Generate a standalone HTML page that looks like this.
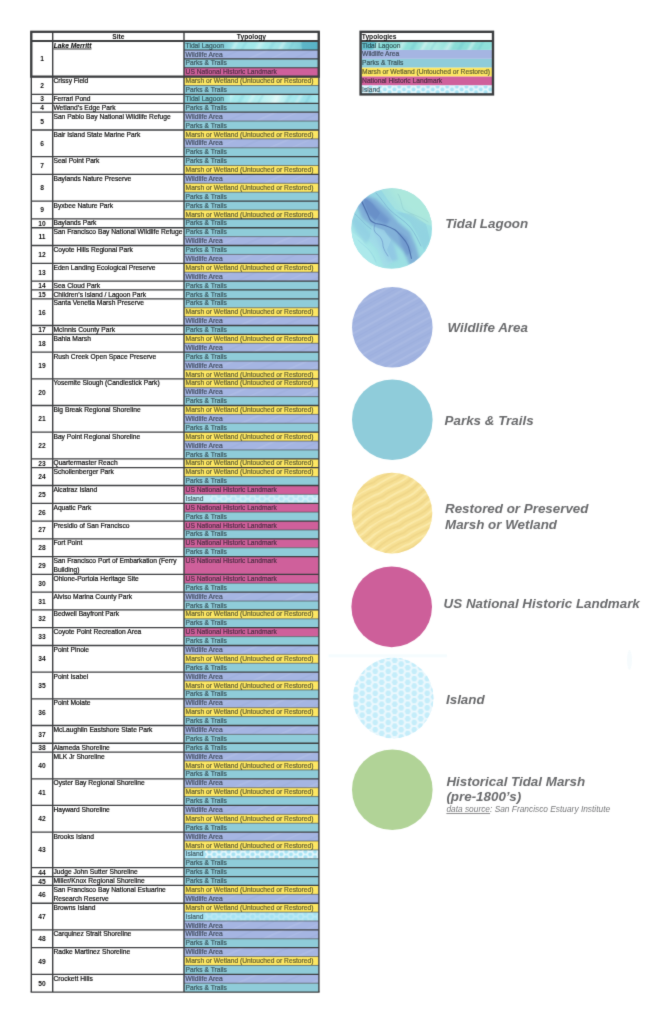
<!DOCTYPE html>
<html lang="en"><head><meta charset="utf-8"><title>Site Typologies</title>
<style>
html,body{margin:0;padding:0;background:#fff}
body{width:663px;height:1024px;overflow:hidden}
svg{display:block;font-family:"Liberation Sans",Arial,Helvetica,sans-serif}
</style></head><body>
<svg width="663" height="1024" viewBox="0 0 663 1024">
<defs>
<linearGradient id="gT" x1="0" x2="1" y1="0" y2="0">
<stop offset="0" stop-color="#84ccd8"/><stop offset=".27" stop-color="#86cfda"/><stop offset=".34" stop-color="#a2e8ec"/><stop offset=".55" stop-color="#b4eff0"/><stop offset=".68" stop-color="#d2f6f5"/><stop offset=".8" stop-color="#a8eaee"/><stop offset=".92" stop-color="#9adfe8"/><stop offset="1" stop-color="#a5e9f0"/></linearGradient>
<linearGradient id="gT1" x1="0" x2="1" y1="0" y2="0">
<stop offset="0" stop-color="#84ccd8"/><stop offset=".3" stop-color="#86cfda"/><stop offset=".37" stop-color="#a0e6ea"/><stop offset=".6" stop-color="#a4e9eb"/><stop offset=".72" stop-color="#9fe3e6"/><stop offset=".86" stop-color="#7fcfd8"/><stop offset=".88" stop-color="#5db6c8"/><stop offset="1" stop-color="#58b2c6"/></linearGradient>
<linearGradient id="gTL" x1="0" x2="1" y1="0" y2="0">
<stop offset="0" stop-color="#6cc4cf"/><stop offset=".1" stop-color="#62c0cc"/><stop offset=".13" stop-color="#86dcd8"/><stop offset=".4" stop-color="#8fe0da"/><stop offset=".55" stop-color="#b2ece6"/><stop offset=".7" stop-color="#8adcd6"/><stop offset="1" stop-color="#90e0dc"/></linearGradient>
<linearGradient id="gS" x1="0" x2="1"><stop offset="0" stop-color="#fff" stop-opacity="0"/><stop offset=".5" stop-color="#fff" stop-opacity=".75"/><stop offset="1" stop-color="#fff" stop-opacity="0"/></linearGradient>
<linearGradient id="gS2" x1="0" x2="1"><stop offset="0" stop-color="#58b3c6" stop-opacity="0"/><stop offset=".5" stop-color="#58b3c6" stop-opacity=".5"/><stop offset="1" stop-color="#58b3c6" stop-opacity="0"/></linearGradient>
<pattern id="pT" width="41" height="40" patternUnits="userSpaceOnUse" patternTransform="translate(230 0) rotate(30)">
<rect x="3" width="9" height="40" fill="url(#gS)"/><rect x="15" width="6" height="40" fill="url(#gS2)"/><rect x="24" width="6" height="40" fill="url(#gS)"/><rect x="33" width="4" height="40" fill="url(#gS2)"/></pattern>
<pattern id="pW" width="46" height="30" patternUnits="userSpaceOnUse" patternTransform="rotate(-24)">
<rect y="4" width="46" height="1.6" fill="#fff" opacity=".09"/><rect y="13" width="46" height="1.2" fill="#fff" opacity=".07"/><rect y="22" width="46" height="2" fill="#8093c8" opacity=".1"/></pattern>
<pattern id="pWc" width="50" height="23" patternUnits="userSpaceOnUse" patternTransform="rotate(-29)">
<rect y="2" width="50" height="1.8" fill="#fff" opacity=".1"/><rect y="7" width="50" height="1" fill="#8b9fd4" opacity=".22"/><rect y="11" width="50" height="2.2" fill="#fff" opacity=".08"/><rect y="16" width="50" height="1.2" fill="#8b9fd4" opacity=".2"/><rect y="19.5" width="50" height="1.2" fill="#fff" opacity=".07"/></pattern>
<pattern id="pMc" width="64" height="8.4" patternUnits="userSpaceOnUse" patternTransform="translate(392 513) rotate(-31)">
<path d="M0 2.1 C10 -.2 22 4.6 32 2.1 S54 -.2 64 2.1" stroke="#fdf0b8" stroke-width="1.9" fill="none" opacity=".62"/><path d="M0 6.3 C10 4 22 8.8 32 6.3 S54 4 64 6.3" stroke="#e4c976" stroke-width="1.7" fill="none" opacity=".42"/></pattern>
<pattern id="pI" width="6.2" height="5.4" patternUnits="userSpaceOnUse" patternTransform="translate(0 1.2)">
<circle cx="1.55" cy="1.35" r="1.75" fill="none" stroke="#fff" stroke-width=".8"/><circle cx="4.65" cy="4.05" r="1.75" fill="none" stroke="#fff" stroke-width=".8"/><circle cx="4.65" cy="-1.35" r="1.75" fill="none" stroke="#fff" stroke-width=".8"/><circle cx="-1.55" cy="4.05" r="1.75" fill="none" stroke="#fff" stroke-width=".8"/><circle cx="7.75" cy="1.35" r="1.75" fill="none" stroke="#fff" stroke-width=".8"/><circle cx="1.55" cy="6.75" r="1.75" fill="none" stroke="#fff" stroke-width=".8"/></pattern>
<pattern id="pI2" width="9.6" height="5.6" patternUnits="userSpaceOnUse" patternTransform="translate(368 85.6)">
<circle cx="2.4" cy="1" r="2.05" fill="#a6e3f5"/><circle cx="7.2" cy="3.8" r="2.05" fill="#a6e3f5"/><circle cx="7.2" cy="-1.8" r="2.05" fill="#a6e3f5"/><circle cx="2.4" cy="6.6" r="2.05" fill="#a6e3f5"/><circle cx="-2.4" cy="3.8" r="2.05" fill="#a6e3f5"/><circle cx="12" cy="1" r="2.05" fill="#a6e3f5"/></pattern>
<pattern id="pI3" width="9.6" height="5.6" patternUnits="userSpaceOnUse" patternTransform="translate(207 0)"><circle cx="2.4" cy="1.6" r="2.05" fill="#a6e3f5"/><circle cx="7.2" cy="4.4" r="2.05" fill="#a6e3f5"/><circle cx="7.2" cy="-1.2" r="2.05" fill="#a6e3f5"/><circle cx="2.4" cy="7.2" r="2.05" fill="#a6e3f5"/><circle cx="-2.4" cy="4.4" r="2.05" fill="#a6e3f5"/><circle cx="12" cy="1.6" r="2.05" fill="#a6e3f5"/></pattern>
<pattern id="pIc" width="13" height="7.3" patternUnits="userSpaceOnUse" patternTransform="translate(381.7 667.7)"><polygon points="3.05,0.00 1.53,2.64 -1.52,2.64 -3.05,0.00 -1.53,-2.64 1.53,-2.64" fill="#c4edfa"/><polygon points="16.05,0.00 14.53,2.64 11.48,2.64 9.95,0.00 11.47,-2.64 14.53,-2.64" fill="#c4edfa"/><polygon points="3.05,7.30 1.53,9.94 -1.52,9.94 -3.05,7.30 -1.53,4.66 1.53,4.66" fill="#c4edfa"/><polygon points="16.05,7.30 14.53,9.94 11.48,9.94 9.95,7.30 11.47,4.66 14.53,4.66" fill="#c4edfa"/><polygon points="9.55,3.65 8.03,6.29 4.98,6.29 3.45,3.65 4.97,1.01 8.03,1.01" fill="#c4edfa"/></pattern>
<linearGradient id="gI" x1="0" x2="1"><stop offset="0" stop-color="#fff" stop-opacity=".25"/><stop offset=".3" stop-color="#fff" stop-opacity=".55"/><stop offset=".75" stop-color="#fff" stop-opacity=".9"/><stop offset="1" stop-color="#fff" stop-opacity=".6"/></linearGradient>
<mask id="mI" maskContentUnits="userSpaceOnUse"><rect x="204" y="0" width="114.9" height="1024" fill="url(#gI)"/></mask>
<linearGradient id="gTc" x1="0" y1="0" x2="1" y2="1"><stop offset="0" stop-color="#94d3e2"/><stop offset=".45" stop-color="#98dbe4"/><stop offset="1" stop-color="#9fe3e2"/></linearGradient>
<clipPath id="cT"><circle cx="391.7" cy="228.5" r="40.3"/></clipPath>
<filter id="soft" x="0" y="0" width="663" height="1024" filterUnits="userSpaceOnUse" color-interpolation-filters="sRGB"><feConvolveMatrix order="3" kernelMatrix="0.0113 0.084 0.0113 0.084 0.6188 0.084 0.0113 0.084 0.0113" divisor="1" edgeMode="duplicate"/></filter>
<filter id="b2" x="-20%" y="-20%" width="140%" height="140%"><feGaussianBlur stdDeviation="1.8"/></filter>
<filter id="b3" x="-20%" y="-20%" width="140%" height="140%"><feGaussianBlur stdDeviation="3"/></filter>
<filter id="b1" x="-20%" y="-20%" width="140%" height="140%"><feGaussianBlur stdDeviation=".45"/></filter>
</defs>
<rect width="663" height="1024" fill="#fff"/>
<g filter="url(#soft)">
<g id="fills">
<rect x="184" y="41.1" width="134.9" height="8.89" fill="url(#gT1)"/>
<rect x="230" y="41.1" width="72" height="8.89" fill="url(#pT)" opacity=".45"/>
<rect x="184" y="49.99" width="134.9" height="8.89" fill="#a5b5e2"/>
<rect x="184" y="49.99" width="134.9" height="8.89" fill="url(#pW)"/>
<rect x="184" y="58.88" width="134.9" height="8.89" fill="#8fccd9"/>
<rect x="184" y="67.76" width="134.9" height="8.89" fill="#cf609b"/>
<rect x="184" y="76.65" width="134.9" height="8.89" fill="#fde763"/>
<rect x="184" y="85.54" width="134.9" height="8.89" fill="#8fccd9"/>
<rect x="184" y="94.43" width="134.9" height="8.89" fill="url(#gT)"/>
<rect x="230" y="94.43" width="88.9" height="8.89" fill="url(#pT)" opacity=".45"/>
<rect x="184" y="103.32" width="134.9" height="8.89" fill="#8fccd9"/>
<rect x="184" y="112.2" width="134.9" height="8.89" fill="#a5b5e2"/>
<rect x="184" y="112.2" width="134.9" height="8.89" fill="url(#pW)"/>
<rect x="184" y="121.09" width="134.9" height="8.89" fill="#8fccd9"/>
<rect x="184" y="129.98" width="134.9" height="8.89" fill="#fde763"/>
<rect x="184" y="138.87" width="134.9" height="8.89" fill="#a5b5e2"/>
<rect x="184" y="138.87" width="134.9" height="8.89" fill="url(#pW)"/>
<rect x="184" y="147.76" width="134.9" height="8.89" fill="#8fccd9"/>
<rect x="184" y="156.64" width="134.9" height="8.89" fill="#8fccd9"/>
<rect x="184" y="165.53" width="134.9" height="8.89" fill="#fde763"/>
<rect x="184" y="174.42" width="134.9" height="8.89" fill="#a5b5e2"/>
<rect x="184" y="174.42" width="134.9" height="8.89" fill="url(#pW)"/>
<rect x="184" y="183.31" width="134.9" height="8.89" fill="#fde763"/>
<rect x="184" y="192.2" width="134.9" height="8.89" fill="#8fccd9"/>
<rect x="184" y="201.08" width="134.9" height="8.89" fill="#8fccd9"/>
<rect x="184" y="209.97" width="134.9" height="8.89" fill="#fde763"/>
<rect x="184" y="218.86" width="134.9" height="8.89" fill="#8fccd9"/>
<rect x="184" y="227.75" width="134.9" height="8.89" fill="#8fccd9"/>
<rect x="184" y="236.64" width="134.9" height="8.89" fill="#a5b5e2"/>
<rect x="184" y="236.64" width="134.9" height="8.89" fill="url(#pW)"/>
<rect x="184" y="245.52" width="134.9" height="8.89" fill="#8fccd9"/>
<rect x="184" y="254.41" width="134.9" height="8.89" fill="#a5b5e2"/>
<rect x="184" y="254.41" width="134.9" height="8.89" fill="url(#pW)"/>
<rect x="184" y="263.3" width="134.9" height="8.89" fill="#fde763"/>
<rect x="184" y="272.19" width="134.9" height="8.89" fill="#a5b5e2"/>
<rect x="184" y="272.19" width="134.9" height="8.89" fill="url(#pW)"/>
<rect x="184" y="281.08" width="134.9" height="8.89" fill="#8fccd9"/>
<rect x="184" y="289.96" width="134.9" height="8.89" fill="#8fccd9"/>
<rect x="184" y="298.85" width="134.9" height="8.89" fill="#8fccd9"/>
<rect x="184" y="307.74" width="134.9" height="8.89" fill="#fde763"/>
<rect x="184" y="316.63" width="134.9" height="8.89" fill="#a5b5e2"/>
<rect x="184" y="316.63" width="134.9" height="8.89" fill="url(#pW)"/>
<rect x="184" y="325.52" width="134.9" height="8.89" fill="#8fccd9"/>
<rect x="184" y="334.4" width="134.9" height="8.89" fill="#fde763"/>
<rect x="184" y="343.29" width="134.9" height="8.89" fill="#a5b5e2"/>
<rect x="184" y="343.29" width="134.9" height="8.89" fill="url(#pW)"/>
<rect x="184" y="352.18" width="134.9" height="8.89" fill="#8fccd9"/>
<rect x="184" y="361.07" width="134.9" height="8.89" fill="#a5b5e2"/>
<rect x="184" y="361.07" width="134.9" height="8.89" fill="url(#pW)"/>
<rect x="184" y="369.96" width="134.9" height="8.89" fill="#fde763"/>
<rect x="184" y="378.84" width="134.9" height="8.89" fill="#fde763"/>
<rect x="184" y="387.73" width="134.9" height="8.89" fill="#a5b5e2"/>
<rect x="184" y="387.73" width="134.9" height="8.89" fill="url(#pW)"/>
<rect x="184" y="396.62" width="134.9" height="8.89" fill="#8fccd9"/>
<rect x="184" y="405.51" width="134.9" height="8.89" fill="#fde763"/>
<rect x="184" y="414.4" width="134.9" height="8.89" fill="#a5b5e2"/>
<rect x="184" y="414.4" width="134.9" height="8.89" fill="url(#pW)"/>
<rect x="184" y="423.28" width="134.9" height="8.89" fill="#8fccd9"/>
<rect x="184" y="432.17" width="134.9" height="8.89" fill="#fde763"/>
<rect x="184" y="441.06" width="134.9" height="8.89" fill="#a5b5e2"/>
<rect x="184" y="441.06" width="134.9" height="8.89" fill="url(#pW)"/>
<rect x="184" y="449.95" width="134.9" height="8.89" fill="#8fccd9"/>
<rect x="184" y="458.84" width="134.9" height="8.89" fill="#fde763"/>
<rect x="184" y="467.72" width="134.9" height="8.89" fill="#fde763"/>
<rect x="184" y="476.61" width="134.9" height="8.89" fill="#8fccd9"/>
<rect x="184" y="485.5" width="134.9" height="8.89" fill="#cf609b"/>
<rect x="184" y="494.39" width="134.9" height="8.89" fill="#c2ecf7"/>
<g opacity="0.42" transform="translate(0 494.39)"><rect x="210" y="0" width="108.9" height="8.89" fill="#eefafd"/><rect x="210" y="0" width="108.9" height="8.89" fill="url(#pI3)"/></g>
<rect x="184" y="503.28" width="134.9" height="8.89" fill="#cf609b"/>
<rect x="184" y="512.16" width="134.9" height="8.89" fill="#8fccd9"/>
<rect x="184" y="521.05" width="134.9" height="8.89" fill="#cf609b"/>
<rect x="184" y="529.94" width="134.9" height="8.89" fill="#8fccd9"/>
<rect x="184" y="538.83" width="134.9" height="8.89" fill="#cf609b"/>
<rect x="184" y="547.72" width="134.9" height="8.89" fill="#8fccd9"/>
<rect x="184" y="556.6" width="134.9" height="17.78" fill="#cf609b"/>
<rect x="184" y="574.38" width="134.9" height="8.89" fill="#cf609b"/>
<rect x="184" y="583.27" width="134.9" height="8.89" fill="#8fccd9"/>
<rect x="184" y="592.16" width="134.9" height="8.89" fill="#a5b5e2"/>
<rect x="184" y="592.16" width="134.9" height="8.89" fill="url(#pW)"/>
<rect x="184" y="601.04" width="134.9" height="8.89" fill="#8fccd9"/>
<rect x="184" y="609.93" width="134.9" height="8.89" fill="#fde763"/>
<rect x="184" y="618.82" width="134.9" height="8.89" fill="#8fccd9"/>
<rect x="184" y="627.71" width="134.9" height="8.89" fill="#cf609b"/>
<rect x="184" y="636.6" width="134.9" height="8.89" fill="#8fccd9"/>
<rect x="184" y="645.48" width="134.9" height="8.89" fill="#a5b5e2"/>
<rect x="184" y="645.48" width="134.9" height="8.89" fill="url(#pW)"/>
<rect x="184" y="654.37" width="134.9" height="8.89" fill="#fde763"/>
<rect x="184" y="663.26" width="134.9" height="8.89" fill="#8fccd9"/>
<rect x="184" y="672.15" width="134.9" height="8.89" fill="#a5b5e2"/>
<rect x="184" y="672.15" width="134.9" height="8.89" fill="url(#pW)"/>
<rect x="184" y="681.04" width="134.9" height="8.89" fill="#fde763"/>
<rect x="184" y="689.92" width="134.9" height="8.89" fill="#8fccd9"/>
<rect x="184" y="698.81" width="134.9" height="8.89" fill="#a5b5e2"/>
<rect x="184" y="698.81" width="134.9" height="8.89" fill="url(#pW)"/>
<rect x="184" y="707.7" width="134.9" height="8.89" fill="#fde763"/>
<rect x="184" y="716.59" width="134.9" height="8.89" fill="#8fccd9"/>
<rect x="184" y="725.48" width="134.9" height="8.89" fill="#a5b5e2"/>
<rect x="184" y="725.48" width="134.9" height="8.89" fill="url(#pW)"/>
<rect x="184" y="734.36" width="134.9" height="8.89" fill="#8fccd9"/>
<rect x="184" y="743.25" width="134.9" height="8.89" fill="#8fccd9"/>
<rect x="184" y="752.14" width="134.9" height="8.89" fill="#a5b5e2"/>
<rect x="184" y="752.14" width="134.9" height="8.89" fill="url(#pW)"/>
<rect x="184" y="761.03" width="134.9" height="8.89" fill="#fde763"/>
<rect x="184" y="769.92" width="134.9" height="8.89" fill="#8fccd9"/>
<rect x="184" y="778.8" width="134.9" height="8.89" fill="#a5b5e2"/>
<rect x="184" y="778.8" width="134.9" height="8.89" fill="url(#pW)"/>
<rect x="184" y="787.69" width="134.9" height="8.89" fill="#fde763"/>
<rect x="184" y="796.58" width="134.9" height="8.89" fill="#8fccd9"/>
<rect x="184" y="805.47" width="134.9" height="8.89" fill="#a5b5e2"/>
<rect x="184" y="805.47" width="134.9" height="8.89" fill="url(#pW)"/>
<rect x="184" y="814.36" width="134.9" height="8.89" fill="#fde763"/>
<rect x="184" y="823.24" width="134.9" height="8.89" fill="#8fccd9"/>
<rect x="184" y="832.13" width="134.9" height="8.89" fill="#a5b5e2"/>
<rect x="184" y="832.13" width="134.9" height="8.89" fill="url(#pW)"/>
<rect x="184" y="841.02" width="134.9" height="8.89" fill="#fde763"/>
<rect x="184" y="849.91" width="134.9" height="8.89" fill="#a9e4f4"/>
<g opacity="0.92" transform="translate(0 849.91)"><rect x="205" y="0" width="113.9" height="8.89" fill="#eefafd"/><rect x="205" y="0" width="113.9" height="8.89" fill="url(#pI3)"/></g>
<rect x="184" y="858.8" width="134.9" height="8.89" fill="#8fccd9"/>
<rect x="184" y="867.68" width="134.9" height="8.89" fill="#8fccd9"/>
<rect x="184" y="876.57" width="134.9" height="8.89" fill="#8fccd9"/>
<rect x="184" y="885.46" width="134.9" height="8.89" fill="#fde763"/>
<rect x="184" y="894.35" width="134.9" height="8.89" fill="#a5b5e2"/>
<rect x="184" y="894.35" width="134.9" height="8.89" fill="url(#pW)"/>
<rect x="184" y="903.24" width="134.9" height="8.89" fill="#fde763"/>
<rect x="184" y="912.12" width="134.9" height="8.89" fill="#a6e3f3"/>
<g opacity="0.3" transform="translate(0 912.12)"><rect x="205" y="0" width="113.9" height="8.89" fill="#eefafd"/><rect x="205" y="0" width="113.9" height="8.89" fill="url(#pI3)"/></g>
<rect x="184" y="921.01" width="134.9" height="8.89" fill="#a5b5e2"/>
<rect x="184" y="921.01" width="134.9" height="8.89" fill="url(#pW)"/>
<rect x="184" y="929.9" width="134.9" height="8.89" fill="#a5b5e2"/>
<rect x="184" y="929.9" width="134.9" height="8.89" fill="url(#pW)"/>
<rect x="184" y="938.79" width="134.9" height="8.89" fill="#8fccd9"/>
<rect x="184" y="947.68" width="134.9" height="8.89" fill="#a5b5e2"/>
<rect x="184" y="947.68" width="134.9" height="8.89" fill="url(#pW)"/>
<rect x="184" y="956.56" width="134.9" height="8.89" fill="#fde763"/>
<rect x="184" y="965.45" width="134.9" height="8.89" fill="#8fccd9"/>
<rect x="184" y="974.34" width="134.9" height="8.89" fill="#a5b5e2"/>
<rect x="184" y="974.34" width="134.9" height="8.89" fill="url(#pW)"/>
<rect x="184" y="983.23" width="134.9" height="8.89" fill="#8fccd9"/>
</g>
<g stroke="#3c3e40" fill="none">
<line x1="184" y1="49.99" x2="318.9" y2="49.99" stroke-width="1.15"/>
<line x1="184" y1="58.88" x2="318.9" y2="58.88" stroke-width="1.15"/>
<line x1="184" y1="67.76" x2="318.9" y2="67.76" stroke-width="1.15"/>
<line x1="184" y1="85.54" x2="318.9" y2="85.54" stroke-width=".9" stroke-opacity=".68"/>
<line x1="31.3" y1="94.43" x2="318.9" y2="94.43" stroke-width="1.3"/>
<line x1="31.3" y1="103.32" x2="318.9" y2="103.32" stroke-width="1.3"/>
<line x1="31.3" y1="112.2" x2="318.9" y2="112.2" stroke-width="1.3"/>
<line x1="184" y1="121.09" x2="318.9" y2="121.09" stroke-width=".9" stroke-opacity=".68"/>
<line x1="31.3" y1="129.98" x2="318.9" y2="129.98" stroke-width="1.3"/>
<line x1="184" y1="138.87" x2="318.9" y2="138.87" stroke-width=".9" stroke-opacity=".68"/>
<line x1="184" y1="147.76" x2="318.9" y2="147.76" stroke-width=".9" stroke-opacity=".68"/>
<line x1="31.3" y1="156.64" x2="318.9" y2="156.64" stroke-width="1.3"/>
<line x1="184" y1="165.53" x2="318.9" y2="165.53" stroke-width=".9" stroke-opacity=".68"/>
<line x1="31.3" y1="174.42" x2="318.9" y2="174.42" stroke-width="1.3"/>
<line x1="184" y1="183.31" x2="318.9" y2="183.31" stroke-width=".9" stroke-opacity=".68"/>
<line x1="184" y1="192.2" x2="318.9" y2="192.2" stroke-width=".9" stroke-opacity=".68"/>
<line x1="31.3" y1="201.08" x2="318.9" y2="201.08" stroke-width="1.3"/>
<line x1="184" y1="209.97" x2="318.9" y2="209.97" stroke-width=".9" stroke-opacity=".68"/>
<line x1="31.3" y1="218.86" x2="318.9" y2="218.86" stroke-width="1.3"/>
<line x1="31.3" y1="227.75" x2="318.9" y2="227.75" stroke-width="1.3"/>
<line x1="184" y1="236.64" x2="318.9" y2="236.64" stroke-width=".9" stroke-opacity=".68"/>
<line x1="31.3" y1="245.52" x2="318.9" y2="245.52" stroke-width="1.3"/>
<line x1="184" y1="254.41" x2="318.9" y2="254.41" stroke-width=".9" stroke-opacity=".68"/>
<line x1="31.3" y1="263.3" x2="318.9" y2="263.3" stroke-width="1.3"/>
<line x1="184" y1="272.19" x2="318.9" y2="272.19" stroke-width=".9" stroke-opacity=".68"/>
<line x1="31.3" y1="281.08" x2="318.9" y2="281.08" stroke-width="1.3"/>
<line x1="31.3" y1="289.96" x2="318.9" y2="289.96" stroke-width="1.3"/>
<line x1="31.3" y1="298.85" x2="318.9" y2="298.85" stroke-width="1.3"/>
<line x1="184" y1="307.74" x2="318.9" y2="307.74" stroke-width=".9" stroke-opacity=".68"/>
<line x1="184" y1="316.63" x2="318.9" y2="316.63" stroke-width=".9" stroke-opacity=".68"/>
<line x1="31.3" y1="325.52" x2="318.9" y2="325.52" stroke-width="1.3"/>
<line x1="31.3" y1="334.4" x2="318.9" y2="334.4" stroke-width="1.3"/>
<line x1="184" y1="343.29" x2="318.9" y2="343.29" stroke-width=".9" stroke-opacity=".68"/>
<line x1="31.3" y1="352.18" x2="318.9" y2="352.18" stroke-width="1.3"/>
<line x1="184" y1="361.07" x2="318.9" y2="361.07" stroke-width=".9" stroke-opacity=".68"/>
<line x1="184" y1="369.96" x2="318.9" y2="369.96" stroke-width=".9" stroke-opacity=".68"/>
<line x1="31.3" y1="378.84" x2="318.9" y2="378.84" stroke-width="1.3"/>
<line x1="184" y1="387.73" x2="318.9" y2="387.73" stroke-width=".9" stroke-opacity=".68"/>
<line x1="184" y1="396.62" x2="318.9" y2="396.62" stroke-width=".9" stroke-opacity=".68"/>
<line x1="31.3" y1="405.51" x2="318.9" y2="405.51" stroke-width="1.3"/>
<line x1="184" y1="414.4" x2="318.9" y2="414.4" stroke-width=".9" stroke-opacity=".68"/>
<line x1="184" y1="423.28" x2="318.9" y2="423.28" stroke-width=".9" stroke-opacity=".68"/>
<line x1="31.3" y1="432.17" x2="318.9" y2="432.17" stroke-width="1.3"/>
<line x1="184" y1="441.06" x2="318.9" y2="441.06" stroke-width=".9" stroke-opacity=".68"/>
<line x1="184" y1="449.95" x2="318.9" y2="449.95" stroke-width=".9" stroke-opacity=".68"/>
<line x1="31.3" y1="458.84" x2="318.9" y2="458.84" stroke-width="1.3"/>
<line x1="31.3" y1="467.72" x2="318.9" y2="467.72" stroke-width="1.3"/>
<line x1="184" y1="476.61" x2="318.9" y2="476.61" stroke-width=".9" stroke-opacity=".68"/>
<line x1="31.3" y1="485.5" x2="318.9" y2="485.5" stroke-width="1.3"/>
<line x1="184" y1="494.39" x2="318.9" y2="494.39" stroke-width=".9" stroke-opacity=".68"/>
<line x1="31.3" y1="503.28" x2="318.9" y2="503.28" stroke-width="1.3"/>
<line x1="184" y1="512.16" x2="318.9" y2="512.16" stroke-width=".9" stroke-opacity=".68"/>
<line x1="31.3" y1="521.05" x2="318.9" y2="521.05" stroke-width="1.3"/>
<line x1="184" y1="529.94" x2="318.9" y2="529.94" stroke-width=".9" stroke-opacity=".68"/>
<line x1="31.3" y1="538.83" x2="318.9" y2="538.83" stroke-width="1.3"/>
<line x1="184" y1="547.72" x2="318.9" y2="547.72" stroke-width=".9" stroke-opacity=".68"/>
<line x1="31.3" y1="556.6" x2="318.9" y2="556.6" stroke-width="1.3"/>
<line x1="31.3" y1="574.38" x2="318.9" y2="574.38" stroke-width="1.3"/>
<line x1="184" y1="583.27" x2="318.9" y2="583.27" stroke-width=".9" stroke-opacity=".68"/>
<line x1="31.3" y1="592.16" x2="318.9" y2="592.16" stroke-width="1.3"/>
<line x1="184" y1="601.04" x2="318.9" y2="601.04" stroke-width=".9" stroke-opacity=".68"/>
<line x1="31.3" y1="609.93" x2="318.9" y2="609.93" stroke-width="1.3"/>
<line x1="184" y1="618.82" x2="318.9" y2="618.82" stroke-width=".9" stroke-opacity=".68"/>
<line x1="31.3" y1="627.71" x2="318.9" y2="627.71" stroke-width="1.3"/>
<line x1="184" y1="636.6" x2="318.9" y2="636.6" stroke-width=".9" stroke-opacity=".68"/>
<line x1="31.3" y1="645.48" x2="318.9" y2="645.48" stroke-width="1.3"/>
<line x1="184" y1="654.37" x2="318.9" y2="654.37" stroke-width=".9" stroke-opacity=".68"/>
<line x1="184" y1="663.26" x2="318.9" y2="663.26" stroke-width=".9" stroke-opacity=".68"/>
<line x1="31.3" y1="672.15" x2="318.9" y2="672.15" stroke-width="1.3"/>
<line x1="184" y1="681.04" x2="318.9" y2="681.04" stroke-width=".9" stroke-opacity=".68"/>
<line x1="184" y1="689.92" x2="318.9" y2="689.92" stroke-width=".9" stroke-opacity=".68"/>
<line x1="31.3" y1="698.81" x2="318.9" y2="698.81" stroke-width="1.3"/>
<line x1="184" y1="707.7" x2="318.9" y2="707.7" stroke-width=".9" stroke-opacity=".68"/>
<line x1="184" y1="716.59" x2="318.9" y2="716.59" stroke-width=".9" stroke-opacity=".68"/>
<line x1="31.3" y1="725.48" x2="318.9" y2="725.48" stroke-width="1.3"/>
<line x1="184" y1="734.36" x2="318.9" y2="734.36" stroke-width=".9" stroke-opacity=".68"/>
<line x1="31.3" y1="743.25" x2="318.9" y2="743.25" stroke-width="1.3"/>
<line x1="31.3" y1="752.14" x2="318.9" y2="752.14" stroke-width="1.3"/>
<line x1="184" y1="761.03" x2="318.9" y2="761.03" stroke-width=".9" stroke-opacity=".68"/>
<line x1="184" y1="769.92" x2="318.9" y2="769.92" stroke-width=".9" stroke-opacity=".68"/>
<line x1="31.3" y1="778.8" x2="318.9" y2="778.8" stroke-width="1.3"/>
<line x1="184" y1="787.69" x2="318.9" y2="787.69" stroke-width=".9" stroke-opacity=".68"/>
<line x1="184" y1="796.58" x2="318.9" y2="796.58" stroke-width=".9" stroke-opacity=".68"/>
<line x1="31.3" y1="805.47" x2="318.9" y2="805.47" stroke-width="1.3"/>
<line x1="184" y1="814.36" x2="318.9" y2="814.36" stroke-width=".9" stroke-opacity=".68"/>
<line x1="184" y1="823.24" x2="318.9" y2="823.24" stroke-width=".9" stroke-opacity=".68"/>
<line x1="31.3" y1="832.13" x2="318.9" y2="832.13" stroke-width="1.3"/>
<line x1="184" y1="841.02" x2="318.9" y2="841.02" stroke-width=".9" stroke-opacity=".68"/>
<line x1="184" y1="849.91" x2="318.9" y2="849.91" stroke-width=".9" stroke-opacity=".68"/>
<line x1="184" y1="858.8" x2="318.9" y2="858.8" stroke-width=".9" stroke-opacity=".68"/>
<line x1="31.3" y1="867.68" x2="318.9" y2="867.68" stroke-width="1.3"/>
<line x1="31.3" y1="876.57" x2="318.9" y2="876.57" stroke-width="1.3"/>
<line x1="31.3" y1="885.46" x2="318.9" y2="885.46" stroke-width="1.3"/>
<line x1="184" y1="894.35" x2="318.9" y2="894.35" stroke-width=".9" stroke-opacity=".68"/>
<line x1="31.3" y1="903.24" x2="318.9" y2="903.24" stroke-width="1.3"/>
<line x1="184" y1="912.12" x2="318.9" y2="912.12" stroke-width=".9" stroke-opacity=".68"/>
<line x1="184" y1="921.01" x2="318.9" y2="921.01" stroke-width=".9" stroke-opacity=".68"/>
<line x1="31.3" y1="929.9" x2="318.9" y2="929.9" stroke-width="1.3"/>
<line x1="184" y1="938.79" x2="318.9" y2="938.79" stroke-width=".9" stroke-opacity=".68"/>
<line x1="31.3" y1="947.68" x2="318.9" y2="947.68" stroke-width="1.3"/>
<line x1="184" y1="956.56" x2="318.9" y2="956.56" stroke-width=".9" stroke-opacity=".68"/>
<line x1="184" y1="965.45" x2="318.9" y2="965.45" stroke-width=".9" stroke-opacity=".68"/>
<line x1="31.3" y1="974.34" x2="318.9" y2="974.34" stroke-width="1.3"/>
<line x1="184" y1="983.23" x2="318.9" y2="983.23" stroke-width=".9" stroke-opacity=".68"/>
<line x1="31.3" y1="31.8" x2="31.3" y2="992.12" stroke-width="1.4"/>
<line x1="52.7" y1="31.8" x2="52.7" y2="992.12" stroke-width="1.4"/>
<line x1="184" y1="31.8" x2="184" y2="992.12" stroke-width="1.4"/>
<line x1="318.9" y1="31.8" x2="318.9" y2="992.12" stroke-width="1.4"/>
<line x1="30.6" y1="992.12" x2="319.6" y2="992.12" stroke-width="1.4"/>
<rect x="31.3" y="31.8" width="287.4" height="44.85" stroke-width="2.3"/>
<line x1="31.3" y1="41.1" x2="318.9" y2="41.1" stroke-width="2"/>
</g>
<g font-size="6.68" fill="#0c0c0c" stroke="#0c0c0c" stroke-width=".2">
<text x="118.35" y="38.9" text-anchor="middle" font-weight="bold" stroke="none">Site</text>
<text x="251.45" y="38.9" text-anchor="middle" font-weight="bold" stroke="none">Typology</text>
<text x="42" y="61.38" text-anchor="middle" font-weight="bold" stroke="none">1</text>
<text x="53.7" y="47.65" font-weight="bold" font-style="italic" text-decoration="underline" stroke-width=".1">Lake Merritt</text>
<text x="42" y="88.04" text-anchor="middle" font-weight="bold" stroke="none">2</text>
<text x="53.45" y="83.2">Crissy Field</text>
<text x="42" y="101.37" text-anchor="middle" font-weight="bold" stroke="none">3</text>
<text x="53.45" y="100.98">Ferrari Pond</text>
<text x="42" y="110.26" text-anchor="middle" font-weight="bold" stroke="none">4</text>
<text x="53.45" y="109.87">Wetland’s Edge Park</text>
<text x="42" y="123.59" text-anchor="middle" font-weight="bold" stroke="none">5</text>
<text x="53.45" y="118.75">San Pablo Bay National Wildlife Refuge</text>
<text x="42" y="145.81" text-anchor="middle" font-weight="bold" stroke="none">6</text>
<text x="53.45" y="136.53">Bair Island State Marine Park</text>
<text x="42" y="168.03" text-anchor="middle" font-weight="bold" stroke="none">7</text>
<text x="53.45" y="163.19">Seal Point Park</text>
<text x="42" y="190.25" text-anchor="middle" font-weight="bold" stroke="none">8</text>
<text x="53.45" y="180.97">Baylands Nature Preserve</text>
<text x="42" y="212.47" text-anchor="middle" font-weight="bold" stroke="none">9</text>
<text x="53.45" y="207.63">Byxbee Nature Park</text>
<text x="42" y="225.8" text-anchor="middle" font-weight="bold" stroke="none">10</text>
<text x="53.45" y="225.41">Baylands Park</text>
<text x="42" y="239.14" text-anchor="middle" font-weight="bold" stroke="none">11</text>
<text x="53.45" y="234.3">San Francisco Bay National Wildlife Refuge</text>
<text x="42" y="256.91" text-anchor="middle" font-weight="bold" stroke="none">12</text>
<text x="53.45" y="252.07">Coyote Hills Regional Park</text>
<text x="42" y="274.69" text-anchor="middle" font-weight="bold" stroke="none">13</text>
<text x="53.45" y="269.85">Eden Landing Ecological Preserve</text>
<text x="42" y="288.02" text-anchor="middle" font-weight="bold" stroke="none">14</text>
<text x="53.45" y="287.63">Sea Cloud Park</text>
<text x="42" y="296.91" text-anchor="middle" font-weight="bold" stroke="none">15</text>
<text x="53.45" y="296.51">Children’s Island / Lagoon Park</text>
<text x="42" y="314.68" text-anchor="middle" font-weight="bold" stroke="none">16</text>
<text x="53.45" y="305.4">Santa Venetia Marsh Preserve</text>
<text x="42" y="332.46" text-anchor="middle" font-weight="bold" stroke="none">17</text>
<text x="53.45" y="332.07">McInnis County Park</text>
<text x="42" y="345.79" text-anchor="middle" font-weight="bold" stroke="none">18</text>
<text x="53.45" y="340.95">Bahia Marsh</text>
<text x="42" y="368.01" text-anchor="middle" font-weight="bold" stroke="none">19</text>
<text x="53.45" y="358.73">Rush Creek Open Space Preserve</text>
<text x="42" y="394.68" text-anchor="middle" font-weight="bold" stroke="none">20</text>
<text x="53.45" y="385.39">Yosemite Slough (Candlestick Park)</text>
<text x="42" y="421.34" text-anchor="middle" font-weight="bold" stroke="none">21</text>
<text x="53.45" y="412.06">Big Break Regional Shoreline</text>
<text x="42" y="448" text-anchor="middle" font-weight="bold" stroke="none">22</text>
<text x="53.45" y="438.72">Bay Point Regional Shoreline</text>
<text x="42" y="465.78" text-anchor="middle" font-weight="bold" stroke="none">23</text>
<text x="53.45" y="465.39">Quartermaster Reach</text>
<text x="42" y="479.11" text-anchor="middle" font-weight="bold" stroke="none">24</text>
<text x="53.45" y="474.27">Schollenberger Park</text>
<text x="42" y="496.89" text-anchor="middle" font-weight="bold" stroke="none">25</text>
<text x="53.45" y="492.05">Alcatraz Island</text>
<text x="42" y="514.66" text-anchor="middle" font-weight="bold" stroke="none">26</text>
<text x="53.45" y="509.83">Aquatic Park</text>
<text x="42" y="532.44" text-anchor="middle" font-weight="bold" stroke="none">27</text>
<text x="53.45" y="527.6">Presidio of San Francisco</text>
<text x="42" y="550.22" text-anchor="middle" font-weight="bold" stroke="none">28</text>
<text x="53.45" y="545.38">Fort Point</text>
<text x="42" y="567.99" text-anchor="middle" font-weight="bold" stroke="none">29</text>
<text x="53.45" y="563.15">San Francisco Port of Embarkation (Ferry</text>
<text x="53.45" y="572.04">Building)</text>
<text x="42" y="585.77" text-anchor="middle" font-weight="bold" stroke="none">30</text>
<text x="53.45" y="580.93">Ohlone-Portola Heritage Site</text>
<text x="42" y="603.54" text-anchor="middle" font-weight="bold" stroke="none">31</text>
<text x="53.45" y="598.71">Alviso Marina County Park</text>
<text x="42" y="621.32" text-anchor="middle" font-weight="bold" stroke="none">32</text>
<text x="53.45" y="616.48">Bedwell Bayfront Park</text>
<text x="42" y="639.1" text-anchor="middle" font-weight="bold" stroke="none">33</text>
<text x="53.45" y="634.26">Coyote Point Recreation Area</text>
<text x="42" y="661.32" text-anchor="middle" font-weight="bold" stroke="none">34</text>
<text x="53.45" y="652.03">Point Pinole</text>
<text x="42" y="687.98" text-anchor="middle" font-weight="bold" stroke="none">35</text>
<text x="53.45" y="678.7">Point Isabel</text>
<text x="42" y="714.64" text-anchor="middle" font-weight="bold" stroke="none">36</text>
<text x="53.45" y="705.36">Point Molate</text>
<text x="42" y="736.86" text-anchor="middle" font-weight="bold" stroke="none">37</text>
<text x="53.45" y="732.03">McLaughlin Eastshore State Park</text>
<text x="42" y="750.2" text-anchor="middle" font-weight="bold" stroke="none">38</text>
<text x="53.45" y="749.8">Alameda Shoreline</text>
<text x="42" y="767.97" text-anchor="middle" font-weight="bold" stroke="none">40</text>
<text x="53.45" y="758.69">MLK Jr Shoreline</text>
<text x="42" y="794.64" text-anchor="middle" font-weight="bold" stroke="none">41</text>
<text x="53.45" y="785.35">Oyster Bay Regional Shoreline</text>
<text x="42" y="821.3" text-anchor="middle" font-weight="bold" stroke="none">42</text>
<text x="53.45" y="812.02">Hayward Shoreline</text>
<text x="42" y="852.41" text-anchor="middle" font-weight="bold" stroke="none">43</text>
<text x="53.45" y="838.68">Brooks Island</text>
<text x="42" y="874.63" text-anchor="middle" font-weight="bold" stroke="none">44</text>
<text x="53.45" y="874.23">Judge John Sutter Shoreline</text>
<text x="42" y="883.52" text-anchor="middle" font-weight="bold" stroke="none">45</text>
<text x="53.45" y="883.12">Miller/Knox Regional Shoreline</text>
<text x="42" y="896.85" text-anchor="middle" font-weight="bold" stroke="none">46</text>
<text x="53.45" y="892.01">San Francisco Bay National Estuarine</text>
<text x="53.45" y="900.9">Research Reserve</text>
<text x="42" y="919.07" text-anchor="middle" font-weight="bold" stroke="none">47</text>
<text x="53.45" y="909.79">Browns Island</text>
<text x="42" y="941.29" text-anchor="middle" font-weight="bold" stroke="none">48</text>
<text x="53.45" y="936.45">Carquinez Strait Shoreline</text>
<text x="42" y="963.51" text-anchor="middle" font-weight="bold" stroke="none">49</text>
<text x="53.45" y="954.23">Radke Martinez Shoreline</text>
<text x="42" y="985.73" text-anchor="middle" font-weight="bold" stroke="none">50</text>
<text x="53.45" y="980.89">Crockett Hills</text>
</g>
<g font-size="6.68" fill="#0c1418" stroke="#0c1418" stroke-width=".2" opacity=".67">
<text x="185.6" y="47.65">Tidal Lagoon</text>
<text x="185.6" y="56.54">Wildlife Area</text>
<text x="185.6" y="65.43">Parks &amp; Trails</text>
<text x="185.6" y="74.31">US National Historic Landmark</text>
<text x="185.6" y="83.2">Marsh or Wetland (Untouched or Restored)</text>
<text x="185.6" y="92.09">Parks &amp; Trails</text>
<text x="185.6" y="100.98">Tidal Lagoon</text>
<text x="185.6" y="109.87">Parks &amp; Trails</text>
<text x="185.6" y="118.75">Wildlife Area</text>
<text x="185.6" y="127.64">Parks &amp; Trails</text>
<text x="185.6" y="136.53">Marsh or Wetland (Untouched or Restored)</text>
<text x="185.6" y="145.42">Wildlife Area</text>
<text x="185.6" y="154.31">Parks &amp; Trails</text>
<text x="185.6" y="163.19">Parks &amp; Trails</text>
<text x="185.6" y="172.08">Marsh or Wetland (Untouched or Restored)</text>
<text x="185.6" y="180.97">Wildlife Area</text>
<text x="185.6" y="189.86">Marsh or Wetland (Untouched or Restored)</text>
<text x="185.6" y="198.75">Parks &amp; Trails</text>
<text x="185.6" y="207.63">Parks &amp; Trails</text>
<text x="185.6" y="216.52">Marsh or Wetland (Untouched or Restored)</text>
<text x="185.6" y="225.41">Parks &amp; Trails</text>
<text x="185.6" y="234.3">Parks &amp; Trails</text>
<text x="185.6" y="243.19">Wildlife Area</text>
<text x="185.6" y="252.07">Parks &amp; Trails</text>
<text x="185.6" y="260.96">Wildlife Area</text>
<text x="185.6" y="269.85">Marsh or Wetland (Untouched or Restored)</text>
<text x="185.6" y="278.74">Wildlife Area</text>
<text x="185.6" y="287.63">Parks &amp; Trails</text>
<text x="185.6" y="296.51">Parks &amp; Trails</text>
<text x="185.6" y="305.4">Parks &amp; Trails</text>
<text x="185.6" y="314.29">Marsh or Wetland (Untouched or Restored)</text>
<text x="185.6" y="323.18">Wildlife Area</text>
<text x="185.6" y="332.07">Parks &amp; Trails</text>
<text x="185.6" y="340.95">Marsh or Wetland (Untouched or Restored)</text>
<text x="185.6" y="349.84">Wildlife Area</text>
<text x="185.6" y="358.73">Parks &amp; Trails</text>
<text x="185.6" y="367.62">Wildlife Area</text>
<text x="185.6" y="376.51">Marsh or Wetland (Untouched or Restored)</text>
<text x="185.6" y="385.39">Marsh or Wetland (Untouched or Restored)</text>
<text x="185.6" y="394.28">Wildlife Area</text>
<text x="185.6" y="403.17">Parks &amp; Trails</text>
<text x="185.6" y="412.06">Marsh or Wetland (Untouched or Restored)</text>
<text x="185.6" y="420.95">Wildlife Area</text>
<text x="185.6" y="429.83">Parks &amp; Trails</text>
<text x="185.6" y="438.72">Marsh or Wetland (Untouched or Restored)</text>
<text x="185.6" y="447.61">Wildlife Area</text>
<text x="185.6" y="456.5">Parks &amp; Trails</text>
<text x="185.6" y="465.39">Marsh or Wetland (Untouched or Restored)</text>
<text x="185.6" y="474.27">Marsh or Wetland (Untouched or Restored)</text>
<text x="185.6" y="483.16">Parks &amp; Trails</text>
<text x="185.6" y="492.05">US National Historic Landmark</text>
<text x="185.6" y="500.94">Island</text>
<text x="185.6" y="509.83">US National Historic Landmark</text>
<text x="185.6" y="518.71">Parks &amp; Trails</text>
<text x="185.6" y="527.6">US National Historic Landmark</text>
<text x="185.6" y="536.49">Parks &amp; Trails</text>
<text x="185.6" y="545.38">US National Historic Landmark</text>
<text x="185.6" y="554.27">Parks &amp; Trails</text>
<text x="185.6" y="563.15">US National Historic Landmark</text>
<text x="185.6" y="580.93">US National Historic Landmark</text>
<text x="185.6" y="589.82">Parks &amp; Trails</text>
<text x="185.6" y="598.71">Wildlife Area</text>
<text x="185.6" y="607.59">Parks &amp; Trails</text>
<text x="185.6" y="616.48">Marsh or Wetland (Untouched or Restored)</text>
<text x="185.6" y="625.37">Parks &amp; Trails</text>
<text x="185.6" y="634.26">US National Historic Landmark</text>
<text x="185.6" y="643.15">Parks &amp; Trails</text>
<text x="185.6" y="652.03">Wildlife Area</text>
<text x="185.6" y="660.92">Marsh or Wetland (Untouched or Restored)</text>
<text x="185.6" y="669.81">Parks &amp; Trails</text>
<text x="185.6" y="678.7">Wildlife Area</text>
<text x="185.6" y="687.59">Marsh or Wetland (Untouched or Restored)</text>
<text x="185.6" y="696.47">Parks &amp; Trails</text>
<text x="185.6" y="705.36">Wildlife Area</text>
<text x="185.6" y="714.25">Marsh or Wetland (Untouched or Restored)</text>
<text x="185.6" y="723.14">Parks &amp; Trails</text>
<text x="185.6" y="732.03">Wildlife Area</text>
<text x="185.6" y="740.91">Parks &amp; Trails</text>
<text x="185.6" y="749.8">Parks &amp; Trails</text>
<text x="185.6" y="758.69">Wildlife Area</text>
<text x="185.6" y="767.58">Marsh or Wetland (Untouched or Restored)</text>
<text x="185.6" y="776.47">Parks &amp; Trails</text>
<text x="185.6" y="785.35">Wildlife Area</text>
<text x="185.6" y="794.24">Marsh or Wetland (Untouched or Restored)</text>
<text x="185.6" y="803.13">Parks &amp; Trails</text>
<text x="185.6" y="812.02">Wildlife Area</text>
<text x="185.6" y="820.91">Marsh or Wetland (Untouched or Restored)</text>
<text x="185.6" y="829.79">Parks &amp; Trails</text>
<text x="185.6" y="838.68">Wildlife Area</text>
<text x="185.6" y="847.57">Marsh or Wetland (Untouched or Restored)</text>
<text x="185.6" y="856.46">Island</text>
<text x="185.6" y="865.35">Parks &amp; Trails</text>
<text x="185.6" y="874.23">Parks &amp; Trails</text>
<text x="185.6" y="883.12">Parks &amp; Trails</text>
<text x="185.6" y="892.01">Marsh or Wetland (Untouched or Restored)</text>
<text x="185.6" y="900.9">Wildlife Area</text>
<text x="185.6" y="909.79">Marsh or Wetland (Untouched or Restored)</text>
<text x="185.6" y="918.67">Island</text>
<text x="185.6" y="927.56">Wildlife Area</text>
<text x="185.6" y="936.45">Wildlife Area</text>
<text x="185.6" y="945.34">Parks &amp; Trails</text>
<text x="185.6" y="954.23">Wildlife Area</text>
<text x="185.6" y="963.11">Marsh or Wetland (Untouched or Restored)</text>
<text x="185.6" y="972">Parks &amp; Trails</text>
<text x="185.6" y="980.89">Wildlife Area</text>
<text x="185.6" y="989.78">Parks &amp; Trails</text>
</g>
<rect x="360.6" y="41.05" width="132.4" height="8.89" fill="url(#gTL)"/>
<rect x="360.6" y="41.05" width="132.4" height="8.89" fill="url(#pT)" opacity=".55"/>
<rect x="360.6" y="49.94" width="132.4" height="8.89" fill="#a5b5e2"/>
<rect x="360.6" y="58.83" width="132.4" height="8.89" fill="#8fccd9"/>
<rect x="360.6" y="67.71" width="132.4" height="8.89" fill="#fde763"/>
<rect x="360.6" y="76.6" width="132.4" height="8.89" fill="#cf609b"/>
<rect x="360.6" y="85.49" width="132.4" height="8.91" fill="#e6f7fc"/>
<rect x="360.6" y="85.49" width="132.4" height="8.91" fill="url(#pI2)"/>
<g stroke="#3c3e40" fill="none"><rect x="360.6" y="31.8" width="132.4" height="62.6" stroke-width="2.4"/>
<line x1="360.6" y1="41.05" x2="493" y2="41.05" stroke-width="2"/></g>
<text x="361.8" y="38.65" font-size="6.68" font-weight="bold" fill="#111">Typologies</text>
<g font-size="6.68" fill="#0c1418" stroke="#0c1418" stroke-width=".2" opacity=".67">
<text x="362.1" y="47.6">Tidal Lagoon</text>
<text x="362.1" y="56.49">Wildlife Area</text>
<text x="362.1" y="65.38">Parks &amp; Trails</text>
<text x="362.1" y="74.26">Marsh or Wetland (Untouched or Restored)</text>
<text x="362.1" y="83.15">National Historic Landmark</text>
<text x="362.1" y="92.04">Island</text>
</g>
</g>
<g filter="url(#soft)">
<circle cx="392.3" cy="327.3" r="40.3" fill="#a1b3e0"/>
<circle cx="392.3" cy="327.3" r="40.3" fill="url(#pWc)"/>
<circle cx="392.3" cy="419.75" r="40.3" fill="#8fccda"/>
<circle cx="392.0" cy="513.1" r="40.3" fill="#f6df93"/>
<circle cx="392.0" cy="513.1" r="40.3" fill="url(#pMc)"/>
<circle cx="391.7" cy="606.85" r="40.3" fill="#cd5f9a"/>
<circle cx="393.2" cy="697.9" r="40.3" fill="#ecf8fd"/>
<circle cx="393.2" cy="697.9" r="40.3" fill="url(#pIc)"/>
<circle cx="392.3" cy="789.75" r="40.3" fill="#b1d397"/>
<rect x="328.5" y="654.3" width="118.5" height="3.1" fill="#dff4fb" opacity=".3"/>
<ellipse cx="629.5" cy="660" rx="2.6" ry="10" fill="#e9f6fa" opacity=".4"/>
<g clip-path="url(#cT)">
<rect x="350.4" y="187.2" width="82.6" height="82.6" fill="url(#gTc)"/>
<g filter="url(#b3)">
<path d="M386 184 L436 188 L436 224 L420 220 L404 208 L394 196Z" fill="#a9e6dd" opacity=".95"/>
<path d="M346 222 L362 232 L376 248 L388 274 L346 274Z" fill="#a6e7e8" opacity=".95"/>
<path d="M414 226 L436 232 L436 262 L426 262Z" fill="#98dde4" opacity=".9"/>
</g>
<g filter="url(#b2)">
<path d="M357 205 L364 195 L376 199 L388 210 L398 222 L410 232 L416 246 L420 260 L410 266 L404 252 L396 244 L384 232 L372 226 L362 218Z" fill="#7ba6d6" opacity=".82"/>
<path d="M360 200 L368 198 L380 210 L390 220 L386 225 L374 219 L366 213Z" fill="#6b93cb" opacity=".85"/>
<path d="M398 231 L407 238 L412 252 L406 256 L401 244Z" fill="#6f95cc" opacity=".75"/>
<path d="M372 228 L384 232 L394 244 L398 260 L388 262 L380 246Z" fill="#8fc6e4" opacity=".85"/>
<path d="M352 216 L364 224 L372 236 L366 244 L356 232Z" fill="#90cde2" opacity=".7"/>
</g>
<g filter="url(#b1)">
<path d="M381 190 L388 200 L395 209 L404 213 L413 217 L422 222 L431 226 L438 204 L412 182Z" fill="#b2ebdc" opacity=".45"/>
<path d="M372 226 L384 230 L391 240 L387 250 L393 262 L384 267 L377 249 L369 240Z" fill="#a6daec" opacity=".5"/>
<path d="M352 232 L362 240 L370 252 L378 268 L360 268 L350 250Z" fill="#b4eeee" opacity=".45"/>
<path d="M396 212 L410 222 L418 236 L424 250 L430 240 L426 224 L412 214Z" fill="#86c6dc" opacity=".4"/>
<path d="M363 197 L372 203 L380 213 L375 221 L369 214 L366 206Z" fill="#5f84c0" opacity=".4"/>
</g>
<g filter="url(#b1)" fill="none" stroke-linecap="round" stroke-linejoin="round">
<path d="M361.6 201 C364 207 367 212 369 217.5 C370 221 373 222.5 375.5 223.5 C381 224 388 226 394.8 229.8 C398 232 400 235 402.3 237.3 C405 240 407 243 408.3 246.4 C409.5 250 410.5 254 411.4 258.4" stroke="#4567a6" stroke-width="1.1" opacity=".85"/>
<path d="M375.5 223.5 C373 228 374 232 377 234 C381 237 383 241 383 246 C384 250 386 253 388 256" stroke="#5f86c0" stroke-width=".8" opacity=".7"/>
<path d="M376 193 C381 198 385 205 390 210 C396 216 404 220 410 227 C415 233 418 240 421 246" stroke="#6b9ac8" stroke-width=".8" opacity=".6"/>
<path d="M355 214 C360 218 364 224 371 229" stroke="#6a92c4" stroke-width=".7" opacity=".55"/>
<path d="M398 194 C402 200 401 206 404 210 C410 214 420 216 428 222" stroke="#86c4c8" stroke-width=".7" opacity=".6"/>
<path d="M358 240 C364 246 372 250 376 262" stroke="#8ccfe0" stroke-width=".7" opacity=".7"/>
</g></g>
<g font-size="13.38" font-weight="bold" font-style="italic" fill="#6a6b6d">
<text x="445.2" y="228.4">Tidal Lagoon</text>
<text x="447.5" y="331.8">Wildlife Area</text>
<text x="444.6" y="424.8">Parks &amp; Trails</text>
<text x="445.0" y="513.3">Restored or Preserved</text>
<text x="445.0" y="529.0">Marsh or Wetland</text>
<text x="443.6" y="608.4">US National Historic Landmark</text>
<text x="446" y="704.3">Island</text>
<text x="446.4" y="785.7">Historical Tidal Marsh</text>
<text x="446.4" y="801.2">(pre-1800’s)</text>
</g>
<text x="446.4" y="812.2" font-size="8.35" font-style="italic" fill="#77787a"><tspan text-decoration="underline">data source</tspan>: San Francisco Estuary Institute</text>
</g>
</svg>
</body></html>
